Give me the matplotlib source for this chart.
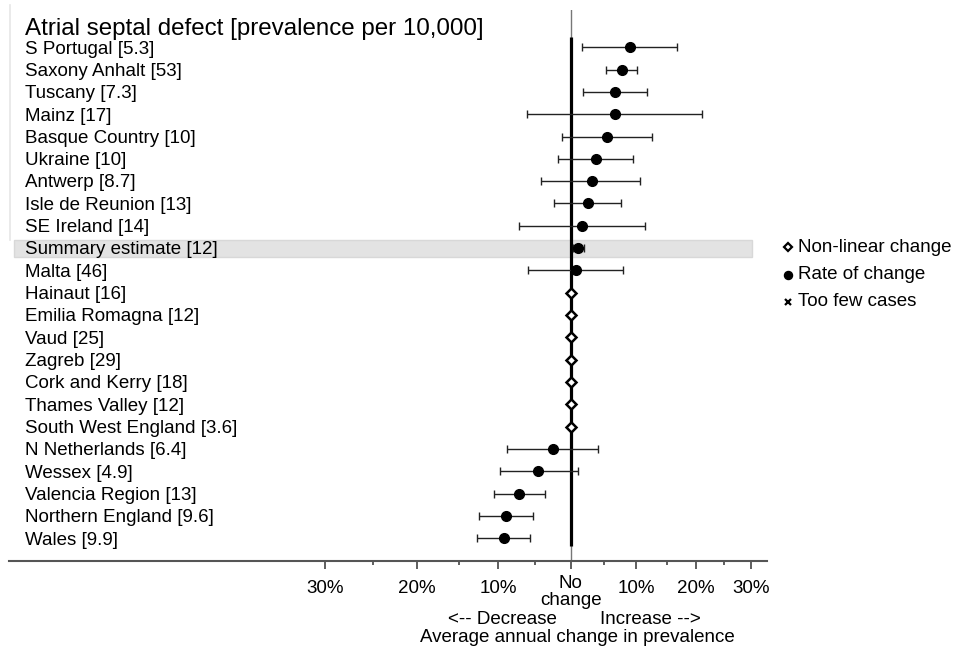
import numpy as np
import matplotlib
matplotlib.use("Agg")
import matplotlib.pyplot as plt
from matplotlib.lines import Line2D
from matplotlib.transforms import blended_transform_factory as blend

plt.rcParams.update({"font.family": ["Liberation Sans", "DejaVu Sans"], "font.size": 13.5})

# ---- data (top to bottom) ----
regions = ["S Portugal", "Saxony Anhalt", "Tuscany", "Mainz", "Basque Country", "Ukraine",
           "Antwerp", "Isle de Reunion", "SE Ireland", "Summary estimate", "Malta", "Hainaut",
           "Emilia Romagna", "Vaud", "Zagreb", "Cork and Kerry", "Thames Valley",
           "South West England", "N Netherlands", "Wessex", "Valencia Region",
           "Northern England", "Wales"]
prevalence = [5.3, 53, 7.3, 17, 10, 10, 8.7, 13, 14, 12, 46, 16, 12, 25, 29, 18, 12, 3.6,
              6.4, 4.9, 13, 9.6, 9.9]
kind = ["rate"] * 11 + ["nonlinear"] * 7 + ["rate"] * 5
nan = np.nan
change = [9.0, 7.7, 6.7, 6.7, 5.4, 3.7, 3.1, 2.5, 1.7, 1.0, 0.8] + [0.0] * 7 + [-2.6, -4.6, -7.2, -9.0, -9.3]
ci_lo = [1.7, 5.2, 1.8, -6.1, -1.2, -1.9, -4.2, -2.4, -7.2, 0.3, -6.0] + [nan] * 7 + [-8.8, -9.8, -10.6, -12.5, -12.7]
ci_hi = [16.7, 10.1, 11.7, 21.1, 12.5, 9.5, 10.6, 7.6, 11.4, 2.0, 7.9] + [nan] * 7 + [4.1, 1.1, -3.7, -5.4, -5.8]

tick_pct = [-30, -20, -10, 10, 20, 30]
tick_lab = ["30%", "20%", "10%", "10%", "20%", "30%"]
minor_pct = [-25, -15, -5, 5, 15, 25]

def tr(p):
    return np.log1p(np.asarray(p, dtype=float) / 100.0)

fig = plt.figure(figsize=(9.57, 6.5), dpi=100)
ax = fig.add_axes([9 / 957, 1 - 561 / 650, 758 / 957, 551 / 650])
ax.set_xlim(-0.8164, 0.2853)
ax.set_ylim(23.02, -1.67)

y = np.arange(len(regions))
kind = np.array(kind)
chg = np.array(change)
lo = np.array(ci_lo)
hi = np.array(ci_hi)
r = kind == "rate"
nl = kind == "nonlinear"

# summary highlight band
i_sum = regions.index("Summary estimate")
ax.axhspan(i_sum - 0.36, i_sum + 0.38, xmin=0.0066, xmax=0.98, fc="#e3e3e3", ec="#d8d8d8",
           lw=1, zorder=0)

# reference line at no change
ax.axvline(0, color="#777777", lw=1.0, zorder=1)
ax.plot([0, 0], [-0.48, 22.33], color="black", lw=2.3, zorder=2, solid_capstyle="butt")

xe = tr(chg[r])
ax.errorbar(xe, y[r], xerr=[xe - tr(lo[r]), tr(hi[r]) - xe], fmt="none", ecolor="#222222",
            elinewidth=1.0, capsize=2.8, capthick=1.0, zorder=3)
ax.plot(xe, y[r], "o", color="black", ms=7, zorder=4)
ax.plot(tr(chg[nl]), y[nl], "D", mfc="white", mec="black", mew=1.8, ms=5.2, zorder=4)

# row labels
lt = blend(fig.transFigure, ax.transData)
for yi, name, pv in zip(y, regions, prevalence):
    ax.text(25 / 957, yi + 0.08, f"{name} [{pv:g}]", transform=lt, ha="left", va="center",
            fontsize=13.5, zorder=5)
ax.text(25 / 957, 1 - 29 / 650, "Atrial septal defect [prevalence per 10,000]",
        transform=fig.transFigure, ha="left", va="center", fontsize=17.4)

# x axis
for s in ["top", "right", "left"]:
    ax.spines[s].set_visible(False)
ax.spines["bottom"].set_color("#555555")
ax.spines["bottom"].set_linewidth(1.5)
ax.set_yticks([])
ax.set_xticks(list(tr(tick_pct)) + [0.0])
ax.set_xticklabels(tick_lab + [""])
ax.set_xticks(tr(minor_pct), minor=True)
ax.tick_params(axis="x", which="major", length=6, width=1.1, color="#333333", pad=8,
               labelsize=13.5)
ax.tick_params(axis="x", which="minor", length=3, width=1.1, color="#333333")

bx = blend(ax.transData, ax.transAxes)
ax.annotate("No\nchange", xy=(0, 0), xycoords=bx, xytext=(0, -31), textcoords="offset pixels",
            ha="center", va="center", linespacing=0.95, fontsize=13.5, annotation_clip=False)
ax.annotate("<-- Decrease", xy=(0, 0), xycoords=bx, xytext=(-14, -59), textcoords="offset pixels",
            ha="right", va="center", fontsize=13.5, annotation_clip=False)
ax.annotate("Increase -->", xy=(0, 0), xycoords=bx, xytext=(29, -59), textcoords="offset pixels",
            ha="left", va="center", fontsize=13.5, annotation_clip=False)
ax.annotate("Average annual change in prevalence", xy=(0, 0), xycoords=bx, xytext=(7, -77),
            textcoords="offset pixels", ha="center", va="center", fontsize=13.5,
            annotation_clip=False)

# legend
leg_items = [("D", "Non-linear change", dict(mfc="white", mec="black", mew=1.6, ms=4.4)),
             ("o", "Rate of change", dict(color="black", ms=5.8)),
             ("x", "Too few cases", dict(color="black", mew=1.6, ms=4.6))]
for k, (m, lab, kw) in enumerate(leg_items):
    yy = 1 - (247 + 27.5 * k) / 650
    fig.add_artist(Line2D([788 / 957], [yy], marker=m, linestyle="none",
                          transform=fig.transFigure, **kw))
    fig.text(798 / 957, yy, lab, ha="left", va="center", fontsize=13.5)

# faint frame edge at left
fig.add_artist(Line2D([10 / 957, 10 / 957], [1 - 5 / 650, 1 - 240 / 650], color="#e6e6e6",
                      lw=1.2, transform=fig.transFigure))

fig.savefig("out.png", dpi=100)
